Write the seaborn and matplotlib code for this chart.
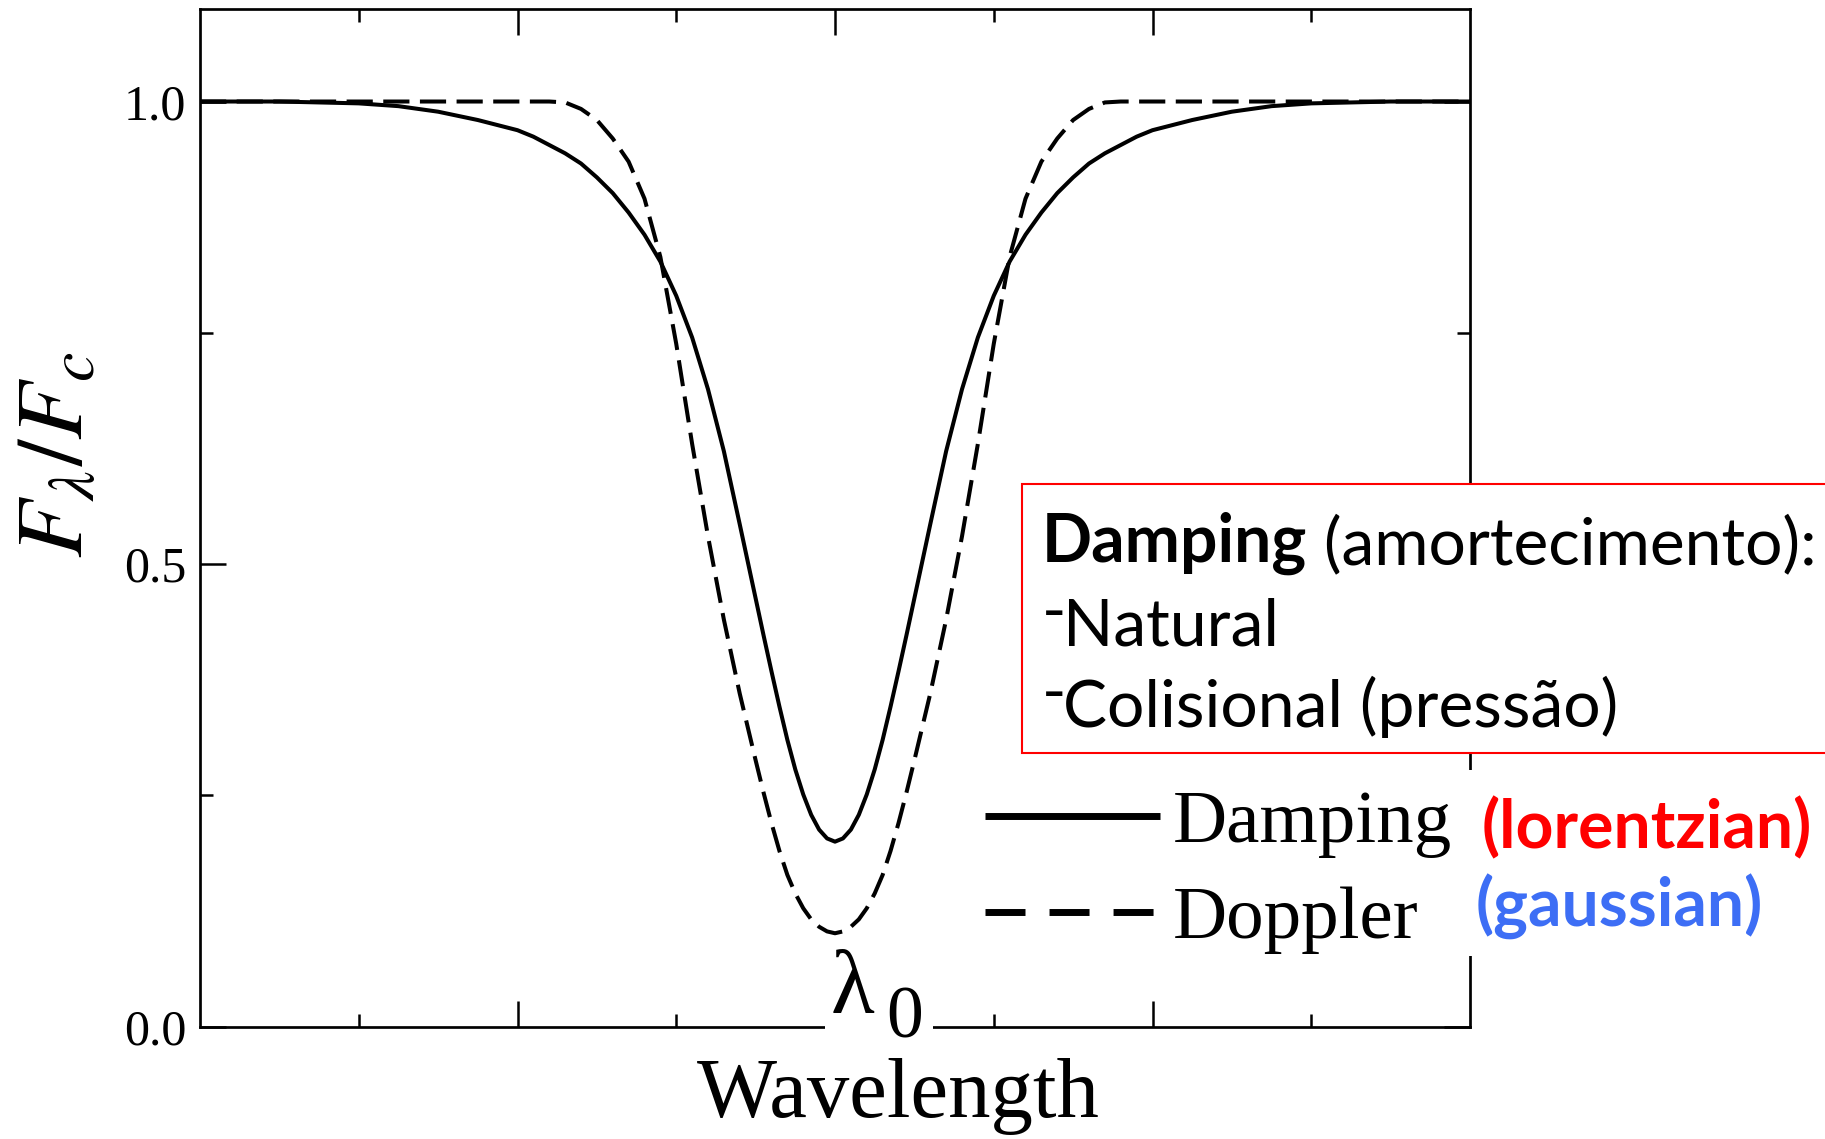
import matplotlib
matplotlib.use("Agg")
import matplotlib.pyplot as plt
from matplotlib.patches import Rectangle
from matplotlib.lines import Line2D
import pandas as pd
import seaborn as sns

# ---------------- data ----------------
damping_x = [-4.0, -3.5, -3.0, -2.75, -2.5, -2.25, -2.0, -1.9, -1.8, -1.7, -1.6, -1.5, -1.4, -1.3,
             -1.2, -1.1, -1.0, -0.9, -0.8, -0.7, -0.6, -0.5, -0.45, -0.4, -0.35, -0.3, -0.25, -0.2,
             -0.15, -0.1, -0.05,
             0.0,
             0.05, 0.1, 0.15, 0.2, 0.25, 0.3, 0.35, 0.4, 0.45, 0.5, 0.6, 0.7, 0.8, 0.9, 1.0,
             1.1, 1.2, 1.3, 1.4, 1.5, 1.6, 1.7, 1.8, 1.9, 2.0, 2.25, 2.5, 2.75, 3.0, 3.5, 4.0]
damping_y = [1.0, 1.0, 0.998, 0.995, 0.989, 0.980, 0.969, 0.962, 0.953, 0.944, 0.933, 0.918, 0.901,
             0.880, 0.856, 0.827, 0.790, 0.745, 0.689, 0.622, 0.543, 0.463, 0.423, 0.384, 0.346,
             0.310, 0.278, 0.251, 0.229, 0.213, 0.2035,
             0.200,
             0.2035, 0.213, 0.229, 0.251, 0.278, 0.310, 0.346, 0.384, 0.423, 0.463, 0.543, 0.622,
             0.689, 0.745, 0.790,
             0.827, 0.856, 0.880, 0.901, 0.918, 0.933, 0.944, 0.953, 0.962, 0.969, 0.980, 0.989,
             0.995, 0.998, 1.0, 1.0]

doppler_x = [-4.0, -3.0, -2.0, -1.8, -1.7, -1.6, -1.5, -1.4, -1.3, -1.2, -1.1, -1.0, -0.9, -0.8,
             -0.7, -0.6, -0.5, -0.45, -0.4, -0.35, -0.3, -0.25, -0.2, -0.15, -0.1, -0.05,
             0.0,
             0.05, 0.1, 0.15, 0.2, 0.25, 0.3, 0.35, 0.4, 0.45, 0.5, 0.6, 0.7, 0.8, 0.9, 1.0,
             1.1, 1.2, 1.3, 1.4, 1.5, 1.6, 1.7, 1.8, 2.0, 3.0, 4.0]
doppler_y = [1.0, 1.0, 1.0, 1.0, 0.999, 0.992, 0.980, 0.960, 0.935, 0.895, 0.832, 0.738, 0.630, 0.530,
             0.440, 0.360, 0.288, 0.253, 0.220, 0.190, 0.164, 0.144, 0.128, 0.116, 0.108, 0.103,
             0.101,
             0.103, 0.108, 0.116, 0.128, 0.144, 0.164, 0.190, 0.220, 0.253, 0.288, 0.360, 0.440, 0.530,
             0.630, 0.738,
             0.832, 0.895, 0.935, 0.960, 0.980, 0.992, 0.999, 1.0, 1.0, 1.0, 1.0]

profile_names = ["Damping", "Doppler"]
ytick_values = [0.0, 0.5, 1.0]
ytick_labels = ["0.0", "0.5", "1.0"]

df = pd.concat([
    pd.DataFrame({"wavelength": damping_x, "flux": damping_y, "profile": profile_names[0]}),
    pd.DataFrame({"wavelength": doppler_x, "flux": doppler_y, "profile": profile_names[1]}),
], ignore_index=True)

# ---------------- styling ----------------
sns.set_style("ticks")
plt.rcParams["font.family"] = ["Liberation Serif", "DejaVu Serif"]
plt.rcParams["mathtext.fontset"] = "stix"
plt.rcParams["text.color"] = "black"
plt.rcParams["axes.labelcolor"] = "black"
plt.rcParams["xtick.color"] = "black"
plt.rcParams["ytick.color"] = "black"
plt.rcParams["axes.edgecolor"] = "black"

W, H = 1825, 1139
def fx(px):
    return px / W
def fy(py):
    return 1 - py / H

fig = plt.figure(figsize=(W / 100, H / 100), dpi=100)
ax = fig.add_axes([fx(200), fy(1026.7), (1470 - 200) / W, (1026.7 - 9) / H])

sns.lineplot(data=df, x="wavelength", y="flux", style="profile",
             dashes={"Damping": "", "Doppler": (6.5, 2.6)},
             color="black", linewidth=2.9, legend=False, estimator=None, ax=ax)

ax.set_xlim(-4, 4)
ax.set_ylim(0, 1.1)
ax.set_xticks([-2, 0, 2])
ax.set_xticks([-3, -1, 1, 3], minor=True)
ax.set_yticks(ytick_values)
ax.set_yticklabels(ytick_labels)
ax.set_yticks([0.25, 0.75], minor=True)
ax.set_xlabel("")
ax.set_ylabel("")
ax.tick_params(axis="both", which="both", direction="in", top=True, right=True,
               color="black", width=1.8)
ax.tick_params(axis="both", which="major", length=18.5)
ax.tick_params(axis="both", which="minor", length=9.5)
ax.tick_params(axis="x", labelbottom=False)
ax.tick_params(axis="y", labelsize=36, pad=10, labelcolor="black")
for s in ax.spines.values():
    s.set_visible(True)
    s.set_linewidth(1.95)
    s.set_color("black")

# axis labels
fig.text(fx(898), fy(1116.7), "Wavelength", ha="center", va="baseline",
         fontsize=61, family="Liberation Serif", color="black")
fig.text(fx(60), fy(455), r"$F_\lambda/F_c$", rotation=90, ha="center", va="center",
         fontsize=68, color="black")

# lambda_0 label with white background covering the axis
ax.add_patch(Rectangle((fx(825), fy(1050)), (933 - 825) / W, (1050 - 945) / H,
                       transform=fig.transFigure, facecolor="white", edgecolor="none",
                       zorder=4, clip_on=False))
ax.text(fx(831), fy(1013), "λ", transform=fig.transFigure, ha="left", va="baseline",
        fontsize=65, family="Liberation Serif", color="black", zorder=6)
ax.text(fx(886), fy(1037), "0", transform=fig.transFigure, ha="left", va="baseline",
        fontsize=53, family="Liberation Serif", color="black", zorder=6)

# white area behind the legend (covers right spine)
ax.add_patch(Rectangle((fx(975), fy(956)), (1825 - 975) / W, (956 - 770) / H,
                       transform=fig.transFigure, facecolor="white", edgecolor="none",
                       zorder=4, clip_on=False))

handles = [Line2D([], [], color="black", lw=5, solid_capstyle="butt"),
           Line2D([], [], color="black", lw=5, dashes=(5.76, 3.46), dash_capstyle="butt")]
leg = ax.legend(handles, profile_names, loc="upper left",
                bbox_to_anchor=(fx(985), fy(790)), bbox_transform=fig.transFigure,
                frameon=False, borderpad=0, borderaxespad=0, handlelength=2.33,
                handletextpad=0.17, labelspacing=0.36,
                prop={"family": "Liberation Serif", "size": 54})
for t in leg.get_texts():
    t.set_color("black")
leg.set_zorder(6)

ax.text(fx(1482), fy(848), "(lorentzian)", transform=fig.transFigure, ha="left", va="baseline",
        fontsize=47.5, fontweight="bold", family="Lato", color="#ff0000", zorder=6)
ax.text(fx(1476), fy(926.7), "(gaussian)", transform=fig.transFigure, ha="left", va="baseline",
        fontsize=47.5, fontweight="bold", family="Lato", color="#3d6ef5", zorder=6)

# red annotation box
ax.add_patch(Rectangle((fx(1022), fy(753)), (1900 - 1022) / W, (753 - 484) / H,
                       transform=fig.transFigure, facecolor="white", edgecolor="#ff0000",
                       linewidth=1.5, zorder=4, clip_on=False))
t1 = ax.text(fx(1042), fy(562), "Damping", transform=fig.transFigure, ha="left", va="baseline",
             fontsize=47.5, fontweight="bold", family="Lato", color="black", zorder=6)
ax.annotate(" (amortecimento):", xy=(1, 0), xycoords=t1, ha="left", va="bottom",
            fontsize=47.5, family="Lato", color="black", zorder=6, annotation_clip=False)
ax.text(fx(1042), fy(632), "-", transform=fig.transFigure, ha="left", va="baseline",
        fontsize=47.5, family="Lato", color="black", zorder=6)
ax.text(fx(1063), fy(645), "Natural", transform=fig.transFigure, ha="left", va="baseline",
        fontsize=47.5, family="Lato", color="black", zorder=6)
ax.text(fx(1042), fy(713), "-", transform=fig.transFigure, ha="left", va="baseline",
        fontsize=47.5, family="Lato", color="black", zorder=6)
ax.text(fx(1063), fy(727), "Colisional (pressão)", transform=fig.transFigure, ha="left",
        va="baseline", fontsize=47.5, family="Lato", color="black", zorder=6)

fig.savefig("out.png", dpi=100, facecolor="white")
